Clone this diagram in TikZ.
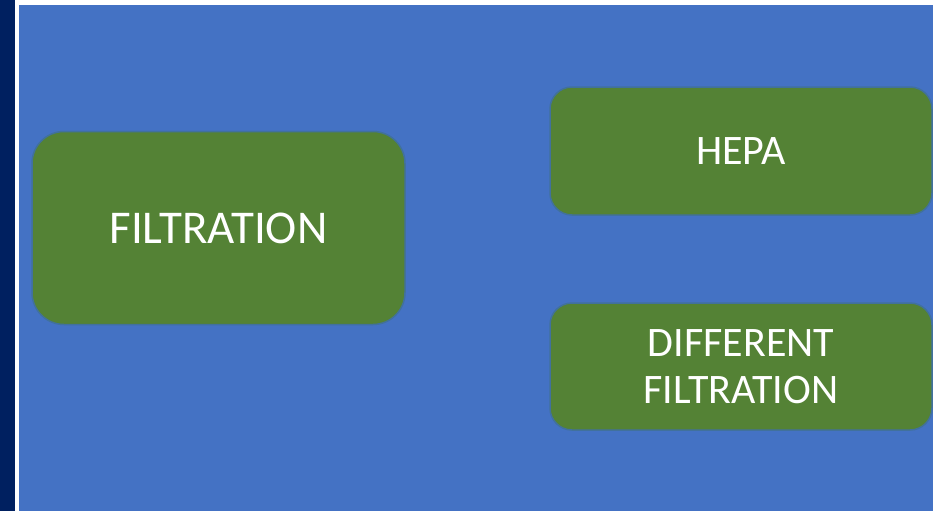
\documentclass[tikz,border=0pt]{standalone}
\usepackage{fontspec}
\setmainfont{Carlito}
\definecolor{navy}{HTML}{002060}
\definecolor{bgblue}{HTML}{4472C4}
\definecolor{boxgreen}{HTML}{548235}
\definecolor{boxline}{HTML}{41719C}
\tikzset{
  gbox/.style={draw=boxline, line width=1.5pt, fill=boxgreen, text=white,
    align=center, inner sep=0pt, font=\fontsize{42}{47}\selectfont},
}
\begin{document}
\begin{tikzpicture}[x=1pt,y=1pt]
\useasboundingbox (0,0) rectangle (933,-511);
\fill[white] (0,0) rectangle (933,-511);
\fill[navy] (0,0) rectangle (15,-511);
\fill[bgblue] (19,-5) rectangle (933,-511);
\node[gbox, rounded corners=32pt, minimum width=373pt, minimum height=193pt, font=\fontsize{47}{52}\selectfont] (filt) at (218.5,-228) {FILTRATION};
\node[gbox, rounded corners=22pt, minimum width=382pt, minimum height=128pt] (hepa) at (741,-151) {HEPA};
\node[gbox, rounded corners=22pt, minimum width=382pt, minimum height=127pt] (diff) at (741,-366.5) {DIFFERENT\\FILTRATION};
\end{tikzpicture}
\end{document}
